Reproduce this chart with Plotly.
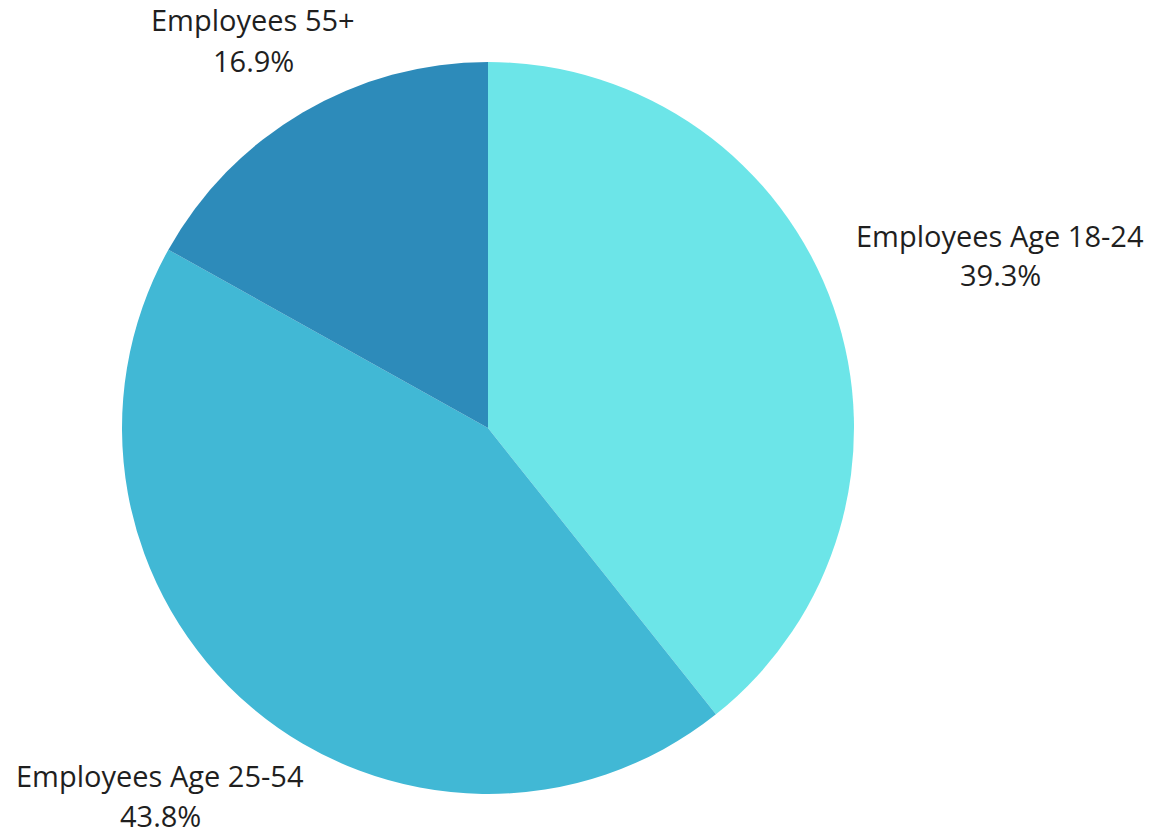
import plotly.graph_objects as go

labels = ["Employees Age 18-24", "Employees Age 25-54", "Employees 55+"]
values = [39.3, 43.8, 16.9]
colors = ["#6CE5E8", "#41B8D5", "#2D8BBA"]

W, H = 1172, 837
cx, cy, r = 488.0, 428.0, 366.0

# label anchor centres (pixels from top-left) for each slice: (x, y of name line, y of percent line)
label_pos = [(1000, 235, 275), (160, 775, 815), (253, 20, 60)]

fig = go.Figure(go.Pie(
    labels=labels,
    values=values,
    sort=False,
    direction="clockwise",
    rotation=0,
    marker=dict(colors=colors, line=dict(width=0)),
    textinfo="none",
    showlegend=False,
    hoverinfo="label+percent",
    domain=dict(x=[(cx - r) / W, (cx + r) / W], y=[1 - (cy + r) / H, 1 - (cy - r) / H]),
))

total = sum(values)
font = dict(family="Open Sans", size=29, color="#1f1f1f")
for lab, val, (lx, ly1, ly2) in zip(labels, values, label_pos):
    fig.add_annotation(x=lx / W, y=1 - ly1 / H, xref="paper", yref="paper",
                       text=lab, showarrow=False, font=font,
                       xanchor="center", yanchor="middle")
    fig.add_annotation(x=lx / W, y=1 - ly2 / H, xref="paper", yref="paper",
                       text=f"{val / total * 100:.1f}%", showarrow=False, font=font,
                       xanchor="center", yanchor="middle")

fig.update_layout(
    width=W, height=H,
    margin=dict(l=0, r=0, t=0, b=0),
    paper_bgcolor="white",
    plot_bgcolor="white",
)

fig.write_html("out.html")
